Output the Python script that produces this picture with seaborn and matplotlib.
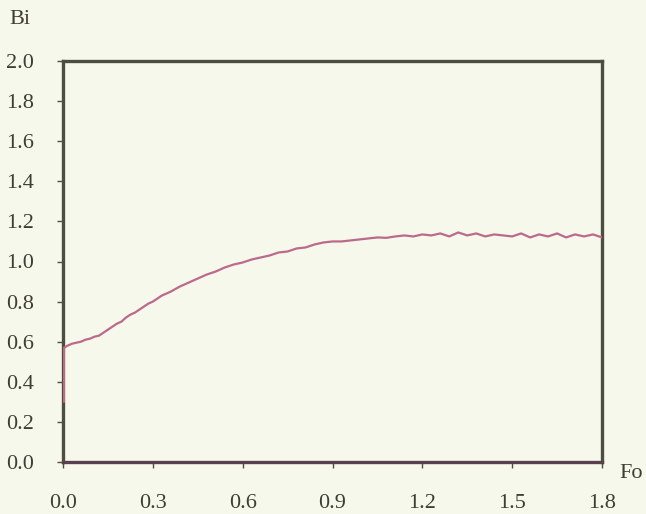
import matplotlib
matplotlib.use("Agg")
import matplotlib.pyplot as plt
import seaborn as sns
import pandas as pd

# Data
fo = [0.003, 0.003, 0.015, 0.03, 0.045, 0.06, 0.075, 0.09, 0.105, 0.12, 0.135,
      0.15, 0.165, 0.18, 0.195, 0.21, 0.225, 0.24, 0.255, 0.27, 0.285, 0.30,
      0.33, 0.36, 0.39, 0.42, 0.45, 0.48, 0.51, 0.54, 0.57, 0.60, 0.63, 0.66,
      0.69, 0.72, 0.75, 0.78, 0.81, 0.84, 0.87, 0.90, 0.93, 0.96, 0.99, 1.02,
      1.05, 1.08, 1.11, 1.14, 1.17, 1.20, 1.23, 1.26, 1.29, 1.32, 1.35, 1.38,
      1.41, 1.44, 1.47, 1.50, 1.53, 1.56, 1.59, 1.62, 1.65, 1.68, 1.71, 1.74,
      1.77, 1.80]
bi = [0.30, 0.57, 0.58, 0.59, 0.595, 0.60, 0.61, 0.615, 0.625, 0.63, 0.645,
      0.66, 0.675, 0.69, 0.70, 0.72, 0.735, 0.745, 0.76, 0.775, 0.79, 0.80,
      0.83, 0.85, 0.875, 0.895, 0.915, 0.935, 0.95, 0.97, 0.985, 0.995, 1.01, 1.02,
      1.03, 1.045, 1.05, 1.065, 1.07, 1.085, 1.095, 1.10, 1.10, 1.105, 1.11, 1.115,
      1.12, 1.118, 1.125, 1.13, 1.125, 1.135, 1.13, 1.14, 1.125, 1.145, 1.13, 1.14,
      1.125, 1.135, 1.13, 1.125, 1.14, 1.12, 1.135, 1.125, 1.14, 1.12, 1.135, 1.125,
      1.135, 1.12]
x_ticks = [0.0, 0.3, 0.6, 0.9, 1.2, 1.5, 1.8]
y_ticks = [0.0, 0.2, 0.4, 0.6, 0.8, 1.0, 1.2, 1.4, 1.6, 1.8, 2.0]

df = pd.DataFrame({"Fo": fo, "Bi": bi})

sns.set_theme(style="white")
plt.rcParams["font.family"] = ["Liberation Serif"]

bg = "#f7f8ec"
frame = "#4e4e40"
txt = "#3e3e34"

fig = plt.figure(figsize=(6.46, 5.14), dpi=100, facecolor=bg)
ax = fig.add_axes([63 / 646, 1 - 462 / 514, (602 - 63) / 646, (462 - 61) / 514])
ax.set_facecolor(bg)

sns.lineplot(data=df, x="Fo", y="Bi", estimator=None, sort=False,
             color="#bb6a8c", linewidth=1.6, ax=ax)

ax.set_xlim(0, 1.8)
ax.set_ylim(0, 2.0)
ax.set_xticks(x_ticks)
ax.set_yticks(y_ticks)
ax.set_xticklabels([f"{v:.1f}" for v in x_ticks])
ax.set_yticklabels([f"{v:.1f}" for v in y_ticks])
ax.set_xlabel("")
ax.set_ylabel("")

for name, s in ax.spines.items():
    s.set_color("#58404e" if name == "bottom" else frame)
    s.set_linewidth(2.4)
    s.set_zorder(1)

ax.tick_params(axis="both", which="major", direction="out", length=4,
               width=1.0, color=frame, labelsize=16, labelcolor=txt,
               bottom=True, left=True)
ax.tick_params(axis="x", pad=19)
ax.tick_params(axis="y", pad=17)

fig.text(20 / 646, 1 - 20 / 514, "Bi", fontsize=16, color=txt,
         ha="center", va="center")
fig.text(631 / 646, 1 - 473 / 514, "Fo", fontsize=16, color=txt,
         ha="center", va="center")

fig.savefig("out.png", dpi=100, facecolor=bg)
